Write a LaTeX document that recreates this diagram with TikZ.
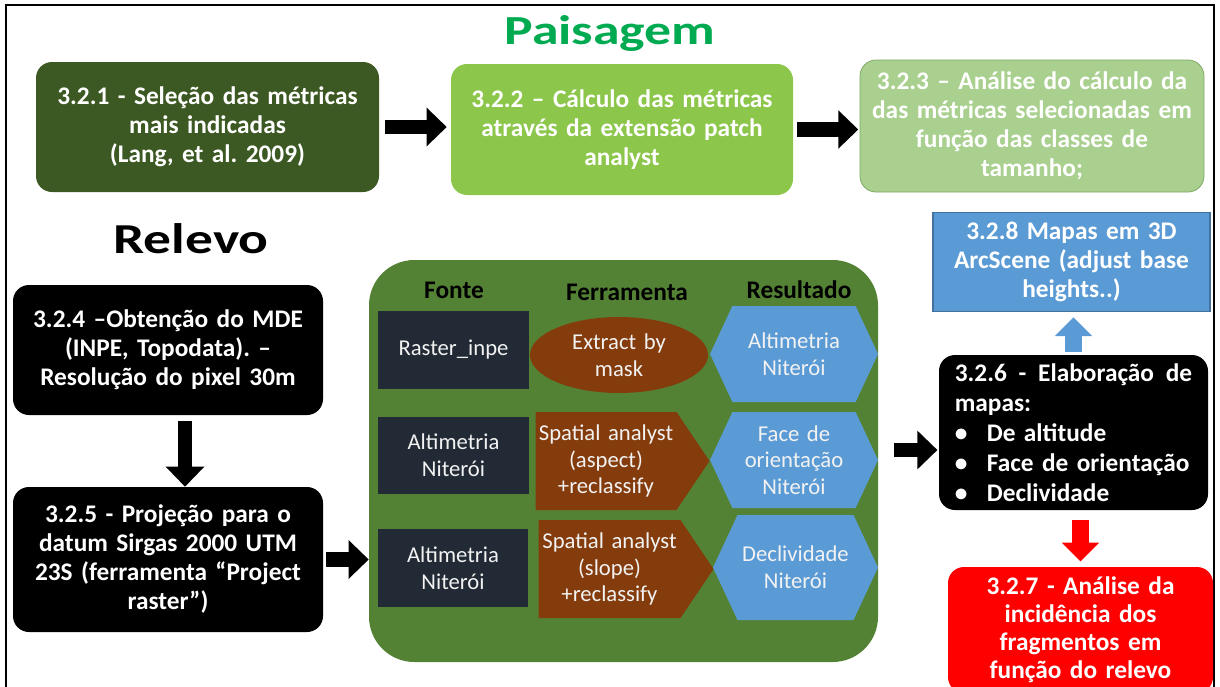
\documentclass[tikz,border=0pt]{standalone}
\usepackage{fontspec}
\setmainfont{Carlito}
\newfontfamily\titlefont[FakeStretch=1.3]{Carlito}
\usetikzlibrary{arrows.meta,shapes.geometric,shapes.symbols}

\definecolor{leafdark}{RGB}{61,89,35}
\definecolor{leafmid}{RGB}{140,198,75}
\definecolor{leafpale}{RGB}{169,208,142}
\definecolor{leafedge}{RGB}{128,168,100}
\definecolor{panelgreen}{RGB}{84,130,53}
\definecolor{navy}{RGB}{34,42,53}
\definecolor{rust}{RGB}{132,60,12}
\definecolor{sky}{RGB}{91,155,213}
\definecolor{skyedge}{RGB}{65,113,156}
\definecolor{titlegreen}{RGB}{0,170,80}
\definecolor{softwhite}{RGB}{242,242,242}
\definecolor{alarm}{RGB}{255,0,0}

\newcommand{\bul}{\makebox[24pt][l]{•}}

\begin{document}
\frenchspacing
\begin{tikzpicture}[x=0.75pt,y=-0.75pt,
  pxsize/.style 2 args={minimum width=#1*0.75pt, minimum height=#2*0.75pt},
  stepbox/.style={rounded corners=12pt, inner sep=0pt, align=center, text=white,
    font=\bfseries\fontsize{19}{21.75}\selectfont},
  cell/.style={inner sep=0pt, align=center, text=softwhite,
    font=\fontsize{17}{20}\selectfont},
  colhead/.style={anchor=base, font=\bfseries\fontsize{19}{22}\selectfont},
  fatarrow/.style={line width=11pt, -{Triangle[length=15pt,width=28pt]}},
  toolshape/.style={cell, signal, signal to=east, signal pointer angle=112, fill=rust},
  resultshape/.style={cell, signal, signal to=east and west, signal pointer angle=130, fill=sky}]
\useasboundingbox (0,0) rectangle (1220,686);

% outer frame, open at the lower edge
\draw[line width=1.5pt] (6,700) -- (6,5) -- (1214,5) -- (1214,700);

% section titles
\node[anchor=base, text=titlegreen, font=\titlefont\bfseries\fontsize{31}{33}\selectfont] (tpais) at (610,44) {Paisagem};
\node[anchor=base, font=\titlefont\bfseries\fontsize{32}{34}\selectfont] (trel) at (191,253) {Relevo};

% landscape chain
\node[stepbox, fill=leafdark, pxsize={343}{130}, text width=250pt] (s321) at (207.5,127)
  {3.2.1 - Seleção das métricas\\ mais indicadas\\ (Lang, et al. 2009)};
\node[stepbox, fill=leafmid, pxsize={342}{131}, text width=250pt] (s322) at (622,129.5)
  {3.2.2 – Cálculo das métricas\\ através da extensão patch\\ analyst};
\node[stepbox, fill=leafpale, draw=leafedge, line width=0.6pt, pxsize={344}{132}, text width=252pt] (s323) at (1032,126)
  {3.2.3 – Análise do cálculo da\\ das métricas selecionadas em\\ função das classes de\\ tamanho;};

% relief chain
\node[stepbox, fill=black, pxsize={310}{130}, text width=226pt] (s324) at (168,350)
  {3.2.4 –Obtenção do MDE\\ (INPE, Topodata). –\\ Resolução do pixel 30m};
\node[stepbox, fill=black, pxsize={310}{145}, text width=226pt] (s325) at (168,559.5)
  {3.2.5 - Projeção para o\\ datum Sirgas 2000 UTM\\ 23S (ferramenta “Project\\ raster”)};

% processing panel
\node[fill=panelgreen, rounded corners=34pt, inner sep=0pt, pxsize={509}{402}] (panel) at (623.5,461) {};
\node[colhead] (hfonte) at (454,298) {Fonte};
\node[colhead] (hferr) at (627,300) {Ferramenta};
\node[colhead] (hres) at (799,298) {Resultado};

\node[cell, fill=navy, pxsize={151}{78}, text width=108pt] (fa) at (453.5,350) {Raster\_inpe};
\node[cell, fill=navy, pxsize={151}{77}, text width=108pt] (fb) at (453.5,455.5) {Altimetria\\ Niterói};
\node[cell, fill=navy, pxsize={150}{78}, text width=108pt] (fc) at (453,568) {Altimetria\\ Niterói};

\node[cell, ellipse, fill=rust, pxsize={178}{76}, text width=75pt] (ta) at (619,355) {Extract by\\ mask};
\node[toolshape, pxsize={174}{98}, text width=105pt] (tb) at (606,461) {Spatial analyst\\ (aspect)\\ +reclassify};
\node[toolshape, pxsize={175}{98}, text width=105pt] (tc) at (609.5,569) {Spatial analyst\\ (slope)\\ +reclassify};

\node[resultshape, pxsize={168}{96}, text width=80pt] (ra) at (794,354) {Altimetria\\ Niterói};
\node[resultshape, pxsize={168}{96}, text width=80pt] (rb) at (794,460) {Face de\\ orientação\\ Niterói};
\node[resultshape, pxsize={165}{105}, text width=80pt] (rc) at (795.5,567.5) {Declividade\\ Niterói};

% maps and analysis
\node[stepbox, rounded corners=0pt, fill=sky, draw=skyedge, line width=0.8pt, pxsize={277}{99}, text width=200pt] (s328) at (1071.5,262)
  {3.2.8 Mapas em 3D\\ ArcScene (adjust base\\ heights..)};
\node[stepbox, fill=black, pxsize={269}{155}, text width=178pt, align=left,
  font=\bfseries\fontsize{19}{22.5}\selectfont] (s326) at (1073.5,432.5)
  {3.2.6 \hfill - \hfill Elaboração \hfill de\\ mapas:\\ \bul De altitude\\ \bul Face de orientação\\ \bul Declividade};
\node[stepbox, fill=alarm, pxsize={265}{126}, text width=192pt,
  font=\bfseries\fontsize{19}{21}\selectfont] (s327) at (1080.5,630)
  {3.2.7 - Análise da\\ incidência dos\\ fragmentos em\\ função do relevo};

% connectors
\draw[fatarrow, shorten <=4pt, shorten >=3pt] (s321.east) -- (s321.east -| s322.west);
\draw[fatarrow, shorten <=3pt, shorten >=1pt] (s322.east) -- (s322.east -| s323.west);
\draw[fatarrow, shorten <=4pt, shorten >=0pt] ([xshift=12.75pt]s324.south) -- ([xshift=12.75pt]s325.north);
\draw[fatarrow, shorten <=2pt, shorten >=0pt] (s325.east) -- (s325.east -| panel.west);
\draw[fatarrow, shorten <=12pt, shorten >=1pt] (panel.east |- 0,450) -- (s326.west |- 0,450);
\draw[fatarrow, draw=sky, line width=12.75pt, -{Triangle[length=14pt,width=27pt]}, shorten <=2pt, shorten >=4pt]
  (s326.north) -- (s326.north |- s328.south);
\draw[fatarrow, draw=alarm, line width=12.75pt, -{Triangle[length=14pt,width=27pt]}, shorten <=7pt, shorten >=4pt]
  (s327.north |- s326.south) -- (s327.north);
\end{tikzpicture}
\end{document}
